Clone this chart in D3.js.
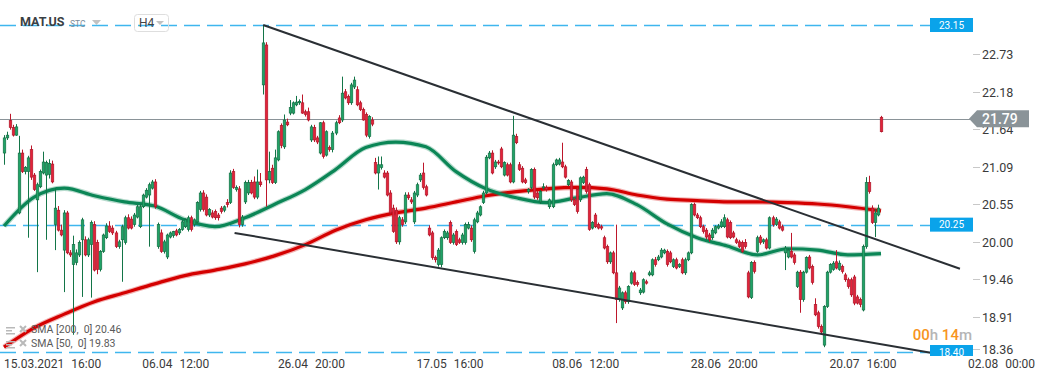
<!DOCTYPE html>
<html>
<head>
<meta charset="utf-8">
<script src="https://cdn.jsdelivr.net/npm/d3@7"></script>
<style>
  html, body { margin: 0; padding: 0; background: #fff; }
  svg { display: block; font-family: Roboto, "Open Sans", sans-serif; }
</style>
</head>
<body>
<svg id="chart"></svg>
<script>
// MAT.US, H4 candles (open, high, low, close)
const ohlc = [
  [21.29,21.55,21.12,21.51],[21.51,21.60,21.48,21.55],[21.76,21.86,21.63,21.66],[21.66,21.70,21.53,21.55],
  [21.55,21.71,21.54,21.67],[20.42,21.54,20.40,21.29],[21.29,21.34,21.00,21.02],[21.02,21.10,20.98,21.08],
  [21.02,21.25,20.06,21.22],[21.34,21.40,20.90,20.94],[20.97,21.00,20.74,20.76],[20.61,20.86,19.56,20.83],
  [20.80,21.05,20.78,21.02],[21.00,21.31,20.98,21.16],[20.97,21.18,20.03,21.15],[20.98,21.20,20.92,21.14],
  [21.13,21.18,20.85,20.87],[20.25,20.78,19.88,20.49],[20.46,20.52,20.15,20.17],[20.17,20.25,20.08,20.10],
  [19.88,20.46,19.27,20.42],[20.42,20.45,19.82,19.84],[19.84,19.88,19.78,19.81],[19.67,20.09,18.65,19.96],
  [19.70,19.89,19.66,19.84],[19.81,20.02,19.78,19.99],[20.03,20.35,19.20,20.32],[20.03,20.08,19.79,19.81],
  [19.81,20.06,19.78,20.03],[19.96,20.31,19.19,20.28],[20.25,20.30,19.57,19.59],[19.99,20.03,19.53,19.60],
  [19.60,19.88,19.57,19.86],[19.86,20.12,19.84,20.10],[20.06,20.27,20.04,20.23],[20.23,20.30,20.13,20.15],
  [20.20,20.24,20.10,20.13],[20.13,20.16,19.91,19.93],[19.93,20.03,19.90,20.00],[20.03,20.25,19.42,20.22],
  [19.99,20.38,19.96,20.35],[20.35,20.40,20.18,20.20],[20.33,20.37,20.18,20.20],[20.25,20.42,20.22,20.39],
  [20.36,20.54,20.34,20.51],[20.22,20.55,20.20,20.51],[20.51,20.70,20.49,20.68],[20.65,20.78,20.63,20.75],
  [20.68,20.86,19.93,20.83],[20.78,20.90,20.76,20.87],[20.87,20.91,20.48,20.51],[19.93,20.28,19.90,20.25],
  [20.13,20.18,19.84,19.86],[19.86,20.03,19.83,20.00],[19.78,20.12,19.75,20.10],[20.07,20.15,20.05,20.13],
  [20.09,20.16,20.06,20.15],[20.16,20.19,20.08,20.10],[20.13,20.20,20.10,20.18],[20.18,20.32,20.16,20.29],
  [20.22,20.34,20.20,20.32],[20.18,20.38,20.15,20.35],[20.35,20.38,20.15,20.18],[20.25,20.34,20.22,20.32],
  [20.29,20.59,20.27,20.57],[20.47,20.74,20.44,20.71],[20.71,20.75,20.44,20.47],[20.65,20.69,20.37,20.39],
  [20.39,20.49,20.36,20.47],[20.42,20.46,20.34,20.36],[20.44,20.47,20.32,20.35],[20.39,20.42,20.31,20.35],
  [20.49,20.52,20.41,20.44],[20.46,20.53,20.43,20.51],[20.57,20.62,20.50,20.54],[20.57,21.04,20.55,21.00],
  [21.02,21.06,20.77,20.79],[20.76,20.82,20.73,20.79],[20.77,20.81,20.21,20.25],[20.25,20.39,20.22,20.36],
  [20.58,20.89,20.55,20.86],[20.71,20.90,20.68,20.86],[20.86,20.90,20.69,20.71],[20.87,20.95,20.62,20.65],
  [20.65,21.05,20.62,20.87],[20.87,21.00,20.80,20.83],[22.28,23.15,22.14,22.89],[22.86,22.90,20.51,20.90],
  [20.90,21.31,20.85,21.02],[21.07,21.12,20.84,20.86],[20.86,21.34,20.84,21.22],[21.19,21.62,21.17,21.60],
  [21.69,21.72,21.36,21.40],[21.38,21.85,21.35,21.77],[21.74,21.79,21.68,21.70],[21.87,22.06,21.84,21.95],
  [21.87,22.04,21.85,22.02],[21.99,22.12,21.97,22.03],[22.02,22.07,21.99,22.04],[22.02,22.14,21.86,21.87],
  [21.89,21.92,21.82,21.85],[21.89,21.95,21.75,21.77],[21.48,21.70,21.45,21.67],[21.66,21.70,21.45,21.48],
  [21.51,21.54,21.42,21.45],[21.29,21.74,21.27,21.73],[21.73,21.76,21.21,21.24],[21.26,21.62,21.24,21.60],
  [21.37,21.40,21.31,21.34],[21.34,21.61,21.30,21.58],[21.58,21.76,21.55,21.73],[21.80,21.84,21.71,21.73],
  [21.77,22.40,21.74,22.16],[22.18,22.22,22.07,22.09],[22.11,22.14,21.99,22.02],[22.02,22.31,21.99,22.28],
  [22.25,22.40,22.22,22.35],[22.21,22.26,21.97,21.99],[22.02,22.05,21.90,21.92],[21.92,21.95,21.76,21.77],
  [21.85,21.88,21.52,21.55],[21.53,21.84,21.50,21.82],[21.77,21.81,21.68,21.71],[21.15,21.22,20.98,21.00],
  [21.00,21.24,20.76,21.12],[21.08,21.24,21.05,21.12],[21.00,21.04,20.92,20.94],[21.00,21.03,20.66,20.68],
  [20.71,20.75,20.40,20.42],[20.49,20.54,20.13,20.15],[20.46,20.50,19.97,20.00],[20.00,20.38,19.96,20.35],
  [20.32,20.36,20.22,20.25],[20.29,20.72,20.26,20.68],[20.68,20.72,20.61,20.64],[20.61,20.65,20.55,20.58],
  [20.29,20.74,20.26,20.71],[20.68,20.86,20.65,20.83],[20.90,21.00,20.87,20.97],[21.00,21.15,20.76,20.79],
  [20.80,20.83,20.66,20.68],[20.20,20.24,20.08,20.10],[20.13,20.16,19.74,19.77],[19.77,19.80,19.70,19.74],
  [19.67,19.91,19.64,19.88],[19.67,20.08,19.63,20.06],[20.06,20.18,20.04,20.15],[20.06,20.16,20.03,20.13],
  [20.28,20.31,19.97,19.99],[19.99,20.13,19.96,20.10],[20.15,20.18,19.94,19.96],[20.03,20.06,19.97,19.99],
  [19.99,20.13,19.96,20.10],[19.99,20.28,19.96,20.25],[20.20,20.29,20.18,20.25],[20.20,20.24,20.00,20.03],
  [19.86,20.35,19.83,20.32],[20.29,20.45,20.27,20.42],[20.39,20.53,20.37,20.51],[20.57,20.74,20.55,20.71],
  [20.71,21.26,20.69,21.23],[21.22,21.32,21.20,21.29],[21.29,21.33,20.98,21.00],[21.09,21.19,21.06,21.16],
  [21.16,21.19,21.12,21.15],[21.35,21.38,21.07,21.09],[20.97,21.17,20.95,21.15],[21.12,21.15,20.95,20.97],
  [21.12,21.15,20.85,20.87],[20.87,21.83,20.85,21.55],[21.53,21.57,21.42,21.44],[21.12,21.16,21.03,21.05],
  [21.07,21.10,20.85,20.87],[20.90,20.93,20.84,20.86],[20.73,20.78,20.70,20.76],[20.79,21.07,20.76,21.05],
  [21.05,21.08,20.62,20.65],[20.71,20.74,20.61,20.64],[20.58,20.75,20.55,20.73],[20.79,20.85,20.76,20.80],
  [20.79,20.82,20.73,20.76],[20.51,20.63,20.48,20.61],[20.51,21.15,20.49,21.12],[21.12,21.21,21.10,21.19],
  [21.13,21.22,21.11,21.19],[21.16,21.44,21.07,21.09],[21.09,21.12,20.92,20.94],[20.83,20.91,20.81,20.89],
  [20.87,20.90,20.58,20.61],[20.61,20.64,20.52,20.54],[20.76,20.79,20.41,20.44],[20.61,20.95,20.58,20.93],
  [20.86,20.96,20.84,20.94],[21.05,21.09,20.70,20.73],[20.83,20.86,20.16,20.18],[20.20,20.30,20.18,20.28],
  [20.39,20.42,20.20,20.22],[20.25,20.28,20.18,20.20],[20.22,20.25,20.17,20.20],[20.06,20.09,19.89,19.91],
  [19.93,19.96,19.68,19.71],[19.71,19.86,19.68,19.84],[19.84,19.87,19.53,19.55],[19.55,20.25,18.82,19.16],
  [19.16,19.36,19.13,19.33],[19.04,19.28,19.01,19.26],[19.26,19.29,19.10,19.13],[19.13,19.37,19.10,19.35],
  [19.40,19.58,19.38,19.55],[19.55,19.58,19.36,19.38],[19.41,19.44,19.35,19.38],[19.26,19.33,19.23,19.30],
  [19.27,19.47,19.25,19.45],[19.42,19.45,19.38,19.40],[19.52,19.58,19.50,19.55],[19.52,19.76,19.50,19.74],
  [19.74,19.78,19.64,19.67],[19.74,19.81,19.72,19.78],[19.78,19.91,19.76,19.88],[19.84,19.90,19.82,19.88],
  [19.86,19.89,19.64,19.67],[19.84,19.87,19.69,19.71],[19.64,19.76,19.62,19.74],[19.74,19.77,19.60,19.62],
  [19.64,19.69,19.62,19.67],[19.74,19.77,19.53,19.55],[19.55,19.77,19.52,19.74],[19.74,19.86,19.72,19.84],
  [19.84,20.56,19.82,20.54],[20.54,20.57,20.37,20.39],[20.39,20.42,20.33,20.35],[20.35,20.38,20.20,20.22],
  [20.22,20.25,20.12,20.15],[20.17,20.20,20.04,20.07],[20.10,20.13,20.00,20.03],[20.06,20.20,20.03,20.17],
  [20.13,20.24,20.11,20.22],[20.20,20.26,20.18,20.23],[20.22,20.33,20.20,20.29],[20.22,20.40,20.20,20.35],
  [20.32,20.35,20.05,20.07],[20.28,20.31,20.04,20.06],[20.13,20.16,20.05,20.07],[20.03,20.06,19.97,19.99],
  [20.00,20.03,19.91,19.93],[19.99,20.02,19.84,19.86],[19.99,20.04,19.90,19.93],[19.55,19.58,19.18,19.20],
  [19.19,19.72,19.17,19.70],[19.70,19.73,19.54,19.57],[19.86,20.09,19.84,20.06],[20.07,20.10,19.96,19.99],
  [20.00,20.05,19.97,20.03],[20.03,20.06,19.89,19.91],[19.91,20.37,19.89,20.35],[20.35,20.38,20.22,20.25],
  [20.25,20.36,20.23,20.33],[20.29,20.32,20.18,20.20],[20.22,20.25,20.15,20.17],[19.84,19.94,19.59,19.91],
  [19.78,19.91,19.76,19.88],[19.86,20.13,19.76,19.78],[19.81,19.84,19.67,19.70],[19.35,19.58,19.33,19.56],
  [19.56,19.59,18.97,19.16],[19.16,19.58,19.13,19.56],[19.56,19.79,19.54,19.77],[19.78,19.81,19.60,19.62],
  [19.64,19.67,19.38,19.41],[19.09,19.18,18.92,18.94],[18.97,19.00,18.74,18.77],[18.77,18.80,18.66,18.69],
  [18.50,19.08,18.47,19.06],[19.06,19.58,19.04,19.56],[19.56,19.69,19.54,19.67],[19.60,19.72,19.58,19.69],
  [19.71,19.88,19.60,19.62],[19.60,19.73,19.58,19.69],[19.64,19.67,19.54,19.57],[19.52,19.55,19.42,19.45],
  [19.45,19.48,19.32,19.35],[19.45,19.48,19.20,19.23],[19.49,19.52,19.08,19.11],[19.20,19.23,19.09,19.11],
  [19.16,19.19,19.05,19.09],[19.01,19.96,18.99,19.93],[19.93,20.94,19.90,20.86],[20.86,20.96,20.70,20.73],
  [20.49,20.53,20.26,20.28],[20.28,20.48,20.07,20.42],[20.39,20.54,20.37,20.49],[21.81,21.83,21.59,21.60]
];

// moving averages, read every 10 candles
const smaIdx = [0,10,20,30,40,50,60,70,80,90,100,110,120,130,140,150,160,170,180,190,200,210,220,230,240,250,260,270,280,291];
const sma200 = [18.47,18.75,18.95,19.13,19.26,19.39,19.51,19.59,19.68,19.80,19.96,20.17,20.32,20.42,20.49,20.58,20.67,20.73,20.77,20.79,20.77,20.68,20.62,20.60,20.58,20.58,20.57,20.55,20.51,20.45];
const sma50 = [20.23,20.65,20.78,20.67,20.58,20.52,20.32,20.22,20.35,20.55,20.76,21.05,21.37,21.45,21.38,21.02,20.77,20.64,20.57,20.64,20.70,20.54,20.26,20.06,19.94,19.81,19.90,19.88,19.81,19.83];

// trend lines [candle index, price]
const upperTrend = [[86, 23.15], [317.2, 19.61]];
const lowerTrend = [[76.5, 20.13], [309.9, 18.37]];

const levels = [23.15, 20.25, 18.40];
const lastPrice = 21.79;
const priceTicks = [22.73, 22.18, 21.64, 21.09, 20.55, 20.00, 19.46, 18.91, 18.36];
const timeTickIdx = [11, 57, 102, 148, 193, 239, 285, 331];
const timeTickDate = ['15.03.2021', '06.04', '26.04', '17.05', '08.06', '28.06', '20.07', '02.08'];
const timeTickTime = ['16:00', '12:00', '20:00', '16:00', '12:00', '20:00', '16:00', '00:00'];

const W = 1041, H = 380;
const svg = d3.select('#chart').attr('width', W).attr('height', H);

const x = d3.scaleLinear().domain([0, ohlc.length - 1]).range([4, 881]);
const y = d3.scaleLinear().domain([18.40, 23.15]).range([352, 25]);

svg.append('defs').append('clipPath').attr('id', 'plot')
  .append('rect').attr('x', 0).attr('y', 0).attr('width', 975).attr('height', 356);

const plot = svg.append('g').attr('clip-path', 'url(#plot)');

/* dashed levels */
levels.forEach(v => {
  plot.append('line')
    .attr('x1', 0).attr('x2', 930)
    .attr('y1', Math.round(y(v)) + 0.5).attr('y2', Math.round(y(v)) + 0.5)
    .attr('stroke', '#3fb6ee').attr('stroke-width', 1.4)
    .attr('stroke-dasharray', '16,7');
});

/* last price line */
plot.append('line')
  .attr('x1', 0).attr('x2', 970)
  .attr('y1', Math.round(y(lastPrice)) + 0.5).attr('y2', Math.round(y(lastPrice)) + 0.5)
  .attr('stroke', '#8a9398').attr('stroke-width', 1);

/* moving averages */
const smaLine = vals => d3.line()
  .x((d, i) => x(smaIdx[i]))
  .y(d => y(d))
  .curve(d3.curveMonotoneX)(vals);

[[sma200, '#d40000'], [sma50, '#0b8656']].forEach(([vals, col]) => {
  plot.append('path').attr('d', smaLine(vals))
    .attr('fill', 'none').attr('stroke', col).attr('stroke-opacity', 0.3).attr('stroke-width', 5.5);
  plot.append('path').attr('d', smaLine(vals))
    .attr('fill', 'none').attr('stroke', col).attr('stroke-width', 3.2);
});

/* candles */
const cg = plot.append('g');
ohlc.forEach((d, i) => {
  const [o, h, l, c] = d;
  const up = c >= o;
  const cx = Math.round(x(i));
  cg.append('line')
    .attr('x1', cx + 0.5).attr('x2', cx + 0.5)
    .attr('y1', y(h)).attr('y2', y(l))
    .attr('stroke', up ? '#137548' : '#bd172b').attr('stroke-width', 1);
  const top = y(Math.max(o, c));
  const bh = Math.max(1, Math.abs(y(o) - y(c)));
  cg.append('rect')
    .attr('x', cx - 0.8).attr('width', 2.6)
    .attr('y', top).attr('height', bh)
    .attr('fill', up ? '#20a367' : '#e2233a')
    .attr('stroke', up ? '#11693f' : '#a81427').attr('stroke-width', 0.6);
});

/* trend lines */
[upperTrend, lowerTrend].forEach(t => {
  plot.append('line')
    .attr('x1', x(t[0][0])).attr('y1', y(t[0][1]))
    .attr('x2', x(t[1][0])).attr('y2', y(t[1][1]))
    .attr('stroke', '#2a2f34').attr('stroke-width', 2);
});

/* level labels */
levels.forEach(v => {
  const yy = y(v);
  plot.append('rect').attr('x', 930).attr('y', yy - 7).attr('width', 43).attr('height', 14)
    .attr('fill', '#0aa3ea');
  plot.append('text').attr('x', 951.5).attr('y', yy + 3.5)
    .attr('text-anchor', 'middle').attr('fill', '#fff').attr('font-size', 10)
    .text(v.toFixed(2));
});

/* right price axis */
const ya = svg.append('g');
priceTicks.forEach(v => {
  const yy = Math.round(y(v)) + 0.5;
  const ty = Math.min(yy, 349.5);
  ya.append('line').attr('x1', 973).attr('x2', 980).attr('y1', ty).attr('y2', ty)
    .attr('stroke', '#c8c8c8');
  ya.append('text').attr('x', 982).attr('y', ty + 4.5)
    .attr('fill', '#3a3a3a').attr('font-size', 12.5).text(v.toFixed(2));
});

/* last price tag */
const ly = y(lastPrice);
svg.append('path')
  .attr('d', `M969,${ly} L977,${ly - 8.5} L1029,${ly - 8.5} L1029,${ly + 8.5} L977,${ly + 8.5} Z`)
  .attr('fill', '#8a9398');
svg.append('text').attr('x', 982).attr('y', ly + 5)
  .attr('fill', '#fff').attr('font-size', 14).attr('font-weight', 500).text(lastPrice.toFixed(2));

/* time axis */
const xa = svg.append('g');
timeTickIdx.forEach((t, i) => {
  const lbl = xa.append('text').attr('y', 368).attr('fill', '#3a3a3a').attr('font-size', 12)
    .attr('text-anchor', 'middle').attr('x', x(t));
  lbl.append('tspan').text(timeTickDate[i]);
  lbl.append('tspan').attr('dx', 7).text(timeTickTime[i]);
  const bb = lbl.node().getBBox();
  if (bb.x < 4) lbl.attr('text-anchor', 'start').attr('x', 4);
});

/* countdown */
const cd = svg.append('text').attr('x', 972).attr('y', 340).attr('text-anchor', 'end')
  .attr('font-size', 15).attr('font-weight', 500);
cd.append('tspan').attr('fill', '#f7941d').text('00');
cd.append('tspan').attr('fill', '#b5b5b5').text('h ');
cd.append('tspan').attr('fill', '#f7941d').text('14');
cd.append('tspan').attr('fill', '#b5b5b5').text('m');

/* indicator legend */
const legendRows = [['SMA [200,  0] 20.46', 333], ['SMA [50,  0] 19.83', 347]];
legendRows.forEach(([txt, yy]) => {
  const g = svg.append('g').attr('fill', '#b9b9b9').attr('stroke', '#b9b9b9');
  g.append('rect').attr('x', 6).attr('y', yy - 6).attr('width', 9).attr('height', 1.5).attr('stroke', 'none');
  g.append('rect').attr('x', 6).attr('y', yy - 3).attr('width', 6).attr('height', 1.5).attr('stroke', 'none');
  g.append('rect').attr('x', 6).attr('y', yy).attr('width', 9).attr('height', 1.5).attr('stroke', 'none');
  g.append('path').attr('d', `M20,${yy - 7} L26,${yy - 1} M26,${yy - 7} L20,${yy - 1}`)
    .attr('stroke-width', 2).attr('fill', 'none');
  svg.append('text').attr('x', 31).attr('y', yy).attr('font-size', 10.5).attr('fill', '#5a5a5a')
    .style('white-space', 'pre').text(txt);
});

/* header */
svg.append('text').attr('x', 20).attr('y', 26).attr('font-size', 12.5).attr('font-weight', 700)
  .attr('fill', '#3a3f44').text('MAT.US');
svg.append('text').attr('x', 70).attr('y', 27).attr('font-size', 8.5)
  .attr('fill', '#7b8c9b').text('STC');
svg.append('path').attr('d', 'M92,20 L101,20 L96.5,25 Z').attr('fill', '#c2c2c2');
svg.append('rect').attr('x', 134.5).attr('y', 14.5).attr('width', 34).attr('height', 17).attr('rx', 3)
  .attr('fill', 'none').attr('stroke', '#dedede');
svg.append('text').attr('x', 139).attr('y', 27).attr('font-size', 12).attr('fill', '#444').text('H4');
svg.append('path').attr('d', 'M156,21 L164,21 L160,25 Z').attr('fill', '#c2c2c2');
</script>
</body>
</html>
